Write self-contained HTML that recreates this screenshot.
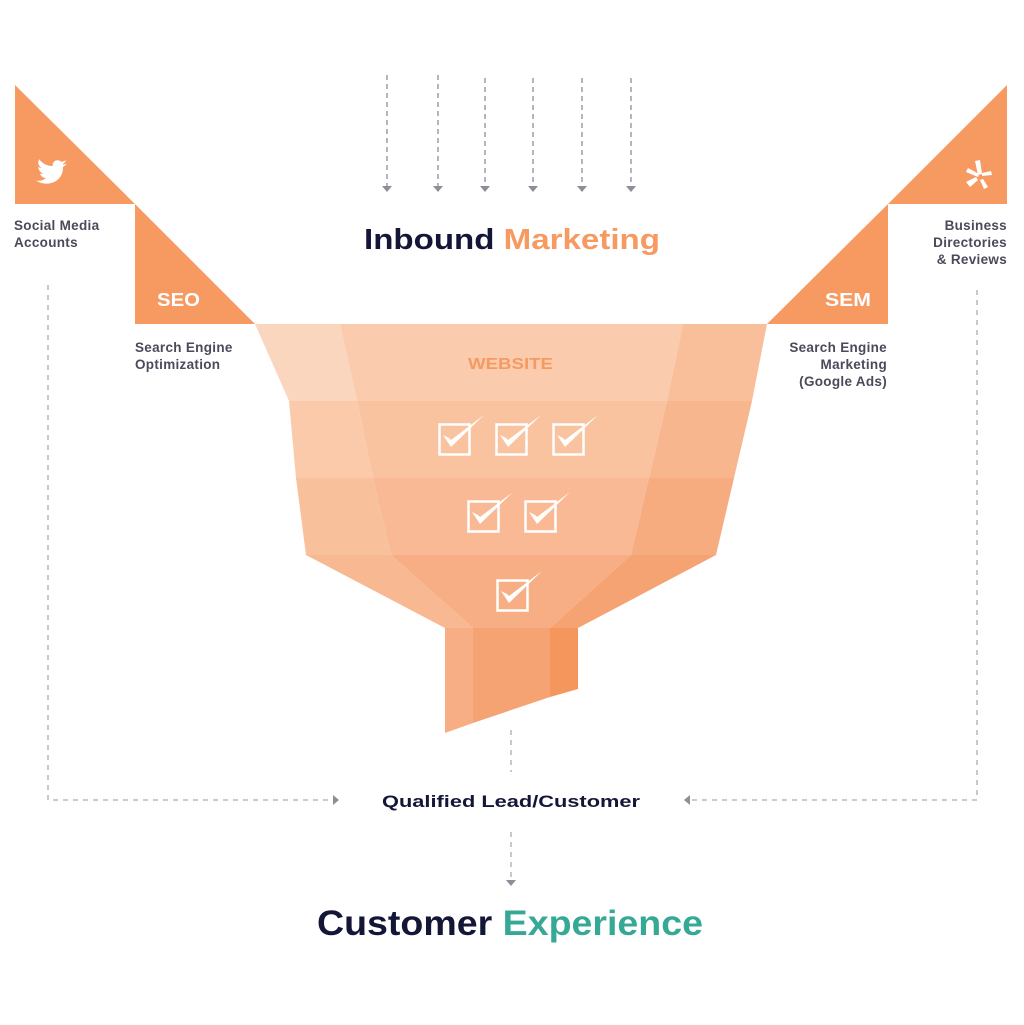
<!DOCTYPE html>
<html><head><meta charset="utf-8"><style>
html,body{margin:0;padding:0;background:#fff}
svg{display:block}
text{font-family:"Liberation Sans",sans-serif;font-weight:bold}
</style></head><body>
<svg width="1024" height="1025" viewBox="0 0 1024 1025" xmlns="http://www.w3.org/2000/svg">
<defs>
<g id="cb"><rect x="1.5" y="1.5" width="30" height="30" fill="none" stroke="#fff" stroke-width="2.5"/><path d="M5 12 L13 24 L46 -8 L13 17 L11 15 Z" fill="#fff"/></g>
</defs>
<g fill="#f79a62">
<polygon points="15,85 15,204 135,204"/>
<polygon points="135,204 135,324 255,324"/>
<polygon points="1007,85 1007,204 888,204"/>
<polygon points="888,204 888,324 767,324"/>
</g>
<g transform="translate(6,2) scale(0.85) translate(8,26)">
<path d="M64 164c-2 1-4 1-6 1 2-1 4-3 5-5-2 1-4 2-6 2-4-4-11-1-10 5-7 0-12-3-16-8-2 4-1 8 3 10-1 0-3 0-4-1 0 4 3 7 6 8-1 0-3 0-4 0 1 3 4 5 7 5-3 3-8 4-12 3 14 9 33 1 32-16 2-1 4-3 5-4z" fill="#fff"/>
</g>
<g fill="#fff"><path d="M975 161l5-1 2 14-4 1z"/><path d="M966 172l2-4 11 6-1 3z"/><path d="M966 182l10-5 2 3-8 7z"/><path d="M980 180l3-1 5 8-4 2z"/><path d="M982 176l0-3 9-2 1 4z"/></g>
<text x="157" y="306" font-size="18" fill="#fff" textLength="43" lengthAdjust="spacingAndGlyphs">SEO</text>
<text x="825" y="306" font-size="18" fill="#fff" textLength="46" lengthAdjust="spacingAndGlyphs">SEM</text>
<g font-size="13.5" fill="#4a4a5a" letter-spacing="0.3">
<text x="14" y="230">Social Media</text><text x="14" y="247">Accounts</text>
<text x="135" y="352">Search Engine</text><text x="135" y="369">Optimization</text>
<text x="1007" y="230" text-anchor="end">Business</text><text x="1007" y="247" text-anchor="end">Directories</text><text x="1007" y="264" text-anchor="end">&amp; Reviews</text>
<text x="887" y="352" text-anchor="end">Search Engine</text><text x="887" y="369" text-anchor="end">Marketing</text><text x="887" y="386" text-anchor="end">(Google Ads)</text>
</g>
<g stroke="#8a8f98" stroke-width="1.3" stroke-dasharray="5,4">
<line x1="387" y1="75" x2="387" y2="186"/><line x1="438" y1="75" x2="438" y2="186"/><line x1="485" y1="78" x2="485" y2="186"/><line x1="533" y1="78" x2="533" y2="186"/><line x1="582" y1="78" x2="582" y2="186"/><line x1="631" y1="78" x2="631" y2="186"/>
</g>
<g fill="#8a8f98">
<polygon points="382,186 392,186 387,192"/><polygon points="433,186 443,186 438,192"/><polygon points="480,186 490,186 485,192"/><polygon points="528,186 538,186 533,192"/><polygon points="577,186 587,186 582,192"/><polygon points="626,186 636,186 631,192"/>
</g>
<text x="364" y="249" font-size="29" fill="#141638" textLength="296" lengthAdjust="spacingAndGlyphs">Inbound <tspan fill="#f79a62">Marketing</tspan></text>
<polygon points="255,324 340,324 357,401 289,401" fill="#fbd6bf"/>
<polygon points="340,324 683,324 667,401 357,401" fill="#fbcbae"/>
<polygon points="683,324 767,324 752,401 667,401" fill="#f9bf9b"/>
<polygon points="289,401 357,401 373,478 296,478" fill="#fbcaab"/>
<polygon points="357,401 667,401 649,478 373,478" fill="#fac3a0"/>
<polygon points="667,401 752,401 734,478 649,478" fill="#f8b68e"/>
<polygon points="296,478 373,478 391,555 306,555" fill="#f9c09c"/>
<polygon points="373,478 649,478 631,555 391,555" fill="#f8b994"/>
<polygon points="649,478 734,478 716,555 631,555" fill="#f7ac80"/>
<polygon points="306,555 391,555 473,628 445,628" fill="#f8b992"/>
<polygon points="391,555 631,555 550,628 473,628" fill="#f7ae85"/>
<polygon points="631,555 716,555 578,628 550,628" fill="#f6a373"/>
<polygon points="445,628 473,628 473,723 445,733" fill="#f8ae84"/>
<polygon points="473,628 550,628 550,697 473,723" fill="#f6a373"/>
<polygon points="550,628 578,628 578,689 550,697" fill="#f5965d"/>
<text x="468" y="369" font-size="16" fill="#f79a62" textLength="85" lengthAdjust="spacingAndGlyphs">WEBSITE</text>
<use href="#cb" x="438" y="423"/><use href="#cb" x="495" y="423"/><use href="#cb" x="552" y="423"/>
<use href="#cb" x="467" y="500"/><use href="#cb" x="524" y="500"/>
<use href="#cb" x="496" y="579"/>
<g stroke="#a8acb3" stroke-width="1.3" stroke-dasharray="5,5" fill="none">
<polyline points="48,285 48,800 333,800"/>
<polyline points="977,290 977,800 690,800"/>
<line x1="511" y1="730" x2="511" y2="772"/>
<line x1="511" y1="832" x2="511" y2="880"/>
</g>
<g fill="#8a8f98">
<polygon points="333,795 339,800 333,805"/>
<polygon points="690,795 684,800 690,805"/>
<polygon points="506,880 516,880 511,886"/>
</g>
<text x="382" y="807" font-size="17" fill="#141638" textLength="258" lengthAdjust="spacingAndGlyphs">Qualified Lead/Customer</text>
<text x="317" y="935" font-size="35" fill="#141638" textLength="386" lengthAdjust="spacingAndGlyphs">Customer <tspan fill="#36a996">Experience</tspan></text>
</svg>
</body></html>
